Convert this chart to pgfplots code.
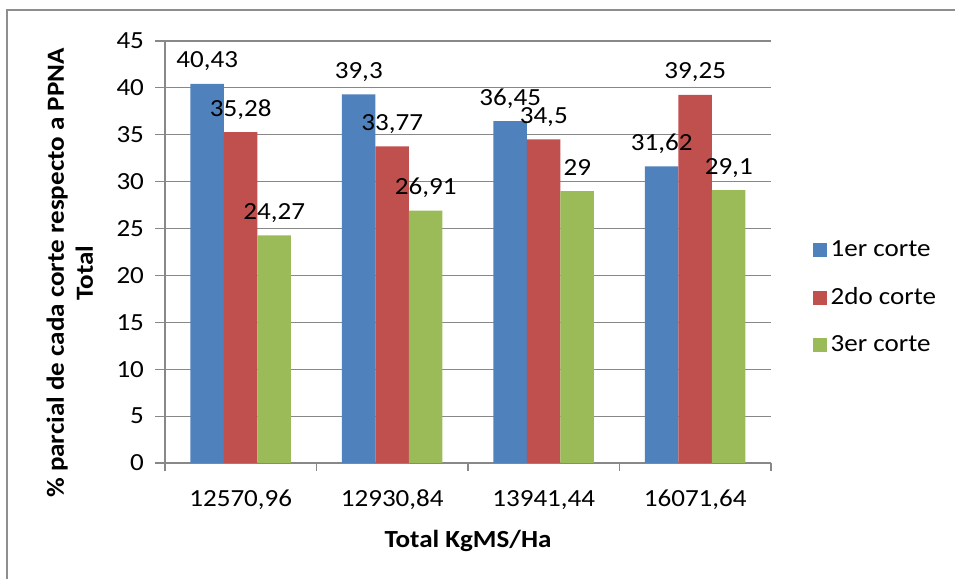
\documentclass[border=0pt]{standalone}
\usepackage{fontspec}
\setmainfont{Carlito}[FakeStretch=1.1]
\usepackage{pgfplots}
\pgfplotsset{compat=1.18}

\definecolor{serA}{HTML}{4F81BD}
\definecolor{serB}{HTML}{C0504D}
\definecolor{serC}{HTML}{9BBB59}
\definecolor{axgray}{HTML}{888888}
\definecolor{frame}{HTML}{8E8E8E}

\newcommand{\lblfont}{\fontsize{12.3}{14.5}\selectfont}

\begin{document}
\begin{tikzpicture}[x=1pt,y=1pt]
  \useasboundingbox (0,0) rectangle (477.5,289.5);
  \draw[frame, line width=0.9pt] (3.5,-1) -- (3.5,284.5) -- (480,284.5);
  \begin{axis}[
    at={(82.5pt,58pt)}, anchor=south west,
    scale only axis, width=303pt, height=211pt,
    ymin=0, ymax=45, ytick={0,5,...,45},
    xmin=-0.5, xmax=3.5,
    xtick={0,1,2,3},
    xticklabels={{12570,96}, {12930,84}, {13941,44}, {16071,64}},
    minor xtick={-0.5,0.5,1.5,2.5,3.5},
    major x tick style={draw=none},
    minor x tick style={axgray, line width=0.6pt},
    minor tick length=4pt,
    major tick length=5pt,
    tick align=outside,
    y tick style={axgray, line width=0.6pt},
    axis x line*=bottom, axis y line*=left,
    axis line style={axgray, line width=0.6pt, -},
    ymajorgrids, grid style={axgray, line width=0.6pt},
    /pgf/number format/assume math mode=true,
    /pgf/number format/use comma,
    every tick label/.append style={font=\lblfont, text=black},
    yticklabel style={xshift=-2pt},
    xticklabel style={yshift=-5pt},
    xlabel={\bfseries Total KgMS/Ha},
    ylabel={\bfseries\% parcial de cada corte respecto a PPNA\\\bfseries Total},
    xlabel style={font=\lblfont, at={(axis description cs:0.5,-0.184)}, anchor=center},
    ylabel style={font=\lblfont, align=center, at={(axis description cs:-0.157,0.45)}, anchor=center},
    ybar, bar width=16.75pt,
    every axis plot/.append style={draw=none},
    nodes near coords,
    every node near coord/.append style={font=\lblfont, text=black, anchor=base, yshift=8pt},
    legend cell align=left,
    legend style={draw=none, fill=none, at={(1.068,0.391)}, anchor=west, inner sep=0pt,
      row sep=10pt, font=\lblfont},
    legend image code/.code={\fill[#1] (0pt,-3.5pt) rectangle (7pt,3.5pt);},
  ]
    \addplot[fill=serA, bar shift=-16.75pt] coordinates {(0,40.43) (1,39.3) (2,36.45) (3,31.62)};
    \addplot[fill=serB, bar shift=0pt] coordinates {(0,35.28) (1,33.77) (2,34.5) (3,39.25)};
    \addplot[fill=serC, bar shift=16.75pt] coordinates {(0,24.27) (1,26.91) (2,29) (3,29.1)};
    \legend{1er corte, 2do corte, 3er corte}
  \end{axis}
\end{tikzpicture}
\end{document}
